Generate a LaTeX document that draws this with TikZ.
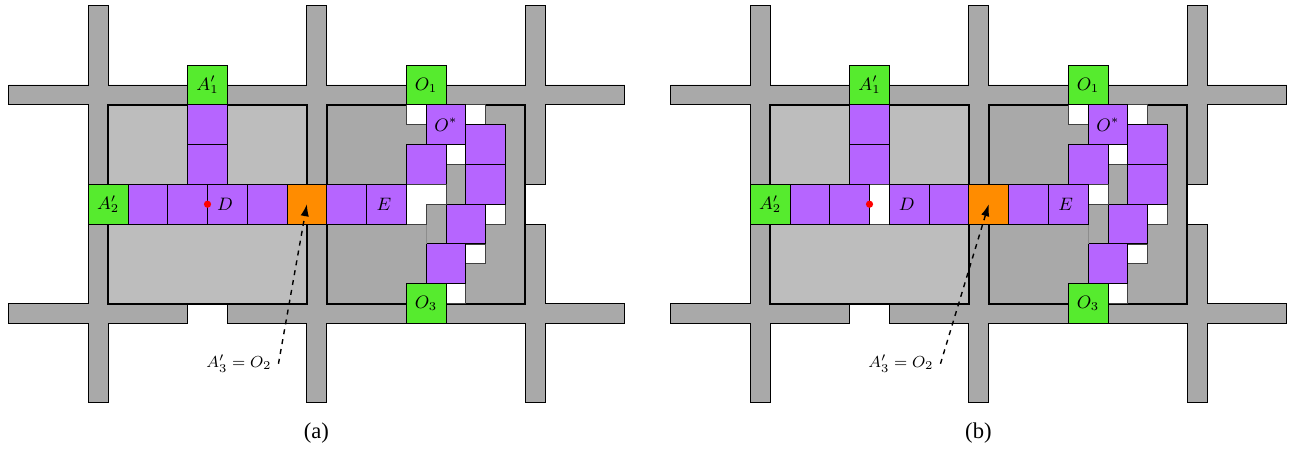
\documentclass[tikz,border=0pt]{standalone}
\usetikzlibrary{arrows.meta}
\usepackage{fontspec}
\newfontfamily\capfont{Liberation Serif}
\definecolor{roadgray}{HTML}{A9A9A9}
\definecolor{roomlight}{HTML}{BDBDBD}
\definecolor{cellgreen}{HTML}{56EB2E}
\definecolor{cellpurple}{HTML}{B665FF}
\definecolor{cellorange}{HTML}{FF8C00}
\tikzset{
  x=9.935pt, y=-9.935pt,
  road/.style={fill=roadgray, draw=black, line width=0.45pt, line join=miter},
  roomA/.style={fill=roomlight, draw=black, line width=1pt},
  roomB/.style={fill=roadgray, draw=black, line width=1pt},
  cellbase/.style={draw=black, line width=0.45pt, minimum size=19.87pt, inner sep=0pt, outer sep=0pt, font=\fontsize{9}{10}\selectfont},
  greencell/.style={cellbase, fill=cellgreen},
  purplecell/.style={cellbase, fill=cellpurple},
  orangecell/.style={cellbase, fill=cellorange},
  whitecell/.style={fill=white, draw=black!75, line width=0.4pt},
  reddot/.style={circle, fill=red, inner sep=0pt, minimum size=3.6pt},
  pointer/.style={draw=black, line width=0.7pt, dash pattern=on 2.5pt off 2.5pt, -{Latex[length=6pt,width=4.2pt]}},
  plainlabel/.style={inner sep=3.333pt, font=\fontsize{8.5}{10}\selectfont},
  caption/.style={font=\capfont\fontsize{11.3}{13}\selectfont},
  seam/.style={draw=black!45, line width=0.2pt}
}
\newcommand{\commonpart}[1]{%
  \draw[road] (0,0)--(1,0)--(1,4)--(11,4)--(11,0)--(12,0)--(12,4)--(22,4)--(22,0)--(23,0)--(23,4)--(27,4)--(27,5)--(23,5)--(23,9)--(22,9)--(22,11)--(23,11)--(23,15)--(27,15)--(27,16)--(23,16)--(23,20)--(22,20)--(22,16)--(12,16)--(12,20)--(11,20)--(11,16)--(7,16)--(7,15)--(5,15)--(5,16)--(1,16)--(1,20)--(0,20)--(0,16)--(-4,16)--(-4,15)--(0,15)--(0,5)--(-4,5)--(-4,4)--(0,4)--cycle;
  \draw[roomA] (1,5) rectangle (11,15);
  \draw[roomB] (12,5) rectangle (22,15);
  % white free cells
  \draw[whitecell] (16,5) rectangle (17,6);
  \draw[whitecell] (19,5) rectangle (20,6);
  \draw[whitecell] (18,7) rectangle (19,8);
  \draw[whitecell] (20,10) rectangle (21,11);
  \draw[whitecell] (19,12) rectangle (20,13);
  \draw[whitecell] (18,14) rectangle (19,15);
  % vertical column
  \node[greencell] (a1#1) at (6,4) {$A'_1$};
  \node[purplecell] (v1#1) at (6,6) {};
  \node[purplecell] (v2#1) at (6,8) {};
  \node[greencell] (a2#1) at (1,10) {$A'_2$};
  % right-hand chain
  \node[greencell] (o1#1) at (17,4) {$O_1$};
  \node[purplecell] (os#1) at (18,6) {$O^*$};
  \node[purplecell] (c1#1) at (20,7) {};
  \node[purplecell] (c2#1) at (20,9) {};
  \node[purplecell] (c3#1) at (17,8) {};
  \node[purplecell] (c4#1) at (19,11) {};
  \node[purplecell] (c5#1) at (18,13) {};
  \node[greencell] (o3#1) at (17,15) {$O_3$};
}
\begin{document}
\begin{tikzpicture}
\useasboundingbox (-44.15pt,2.75pt) rectangle ++(650.5pt,-224.5pt);
% ---------- panel (a)
\begin{scope}
  \commonpart{a}
  \draw[seam] (17,11) -- (17,12);
  \draw[whitecell] (16,9) -- (18,9) -- (18,10) -- (17,10) -- (17,11) -- (16,11) -- cycle;
  \node[purplecell] (ra1) at (3,10) {};
  \node[purplecell] (ra2) at (5,10) {};
  \node[purplecell] (ra3) at (7,10) {$D$\kern2.5pt};
  \node[purplecell] (ra4) at (9,10) {};
  \node[orangecell] (oa) at (11,10) {};
  \node[purplecell] (ra5) at (13,10) {};
  \node[purplecell] (ra6) at (15,10) {$E$\kern2.5pt};
  \node[reddot] (da) at (6,10) {};
  \node[plainlabel] (la) at (7.58,18.03) {$A'_3=O_2$};
  \draw[pointer] (la.east) -- (oa.center);
  \node[caption] (capa) at (11.48,21.5) {(a)};
\end{scope}
% ---------- panel (b)
\begin{scope}[xshift=331pt]
  \commonpart{b}
  \draw[seam] (17,10) -- (17,12);
  \draw[whitecell] (17,9) rectangle (18,10);
  \draw[whitecell] (6,9) rectangle (7,11);
  \node[purplecell] (rb1) at (3,10) {};
  \node[purplecell] (rb2) at (5,10) {};
  \node[purplecell] (rb3) at (8,10) {$D$\kern2.5pt};
  \node[purplecell] (rb4) at (10,10) {};
  \node[orangecell] (ob) at (12,10) {};
  \node[purplecell] (rb5) at (14,10) {};
  \node[purplecell] (rb6) at (16,10) {$E$\kern2.5pt};
  \node[reddot] (db) at (6,10) {};
  \node[plainlabel] (lb) at (7.58,18.03) {$A'_3=O_2$};
  \draw[pointer] (lb.east) -- (ob.center);
  \node[caption] (capb) at (11.48,21.5) {(b)};
\end{scope}
\end{tikzpicture}
\end{document}
